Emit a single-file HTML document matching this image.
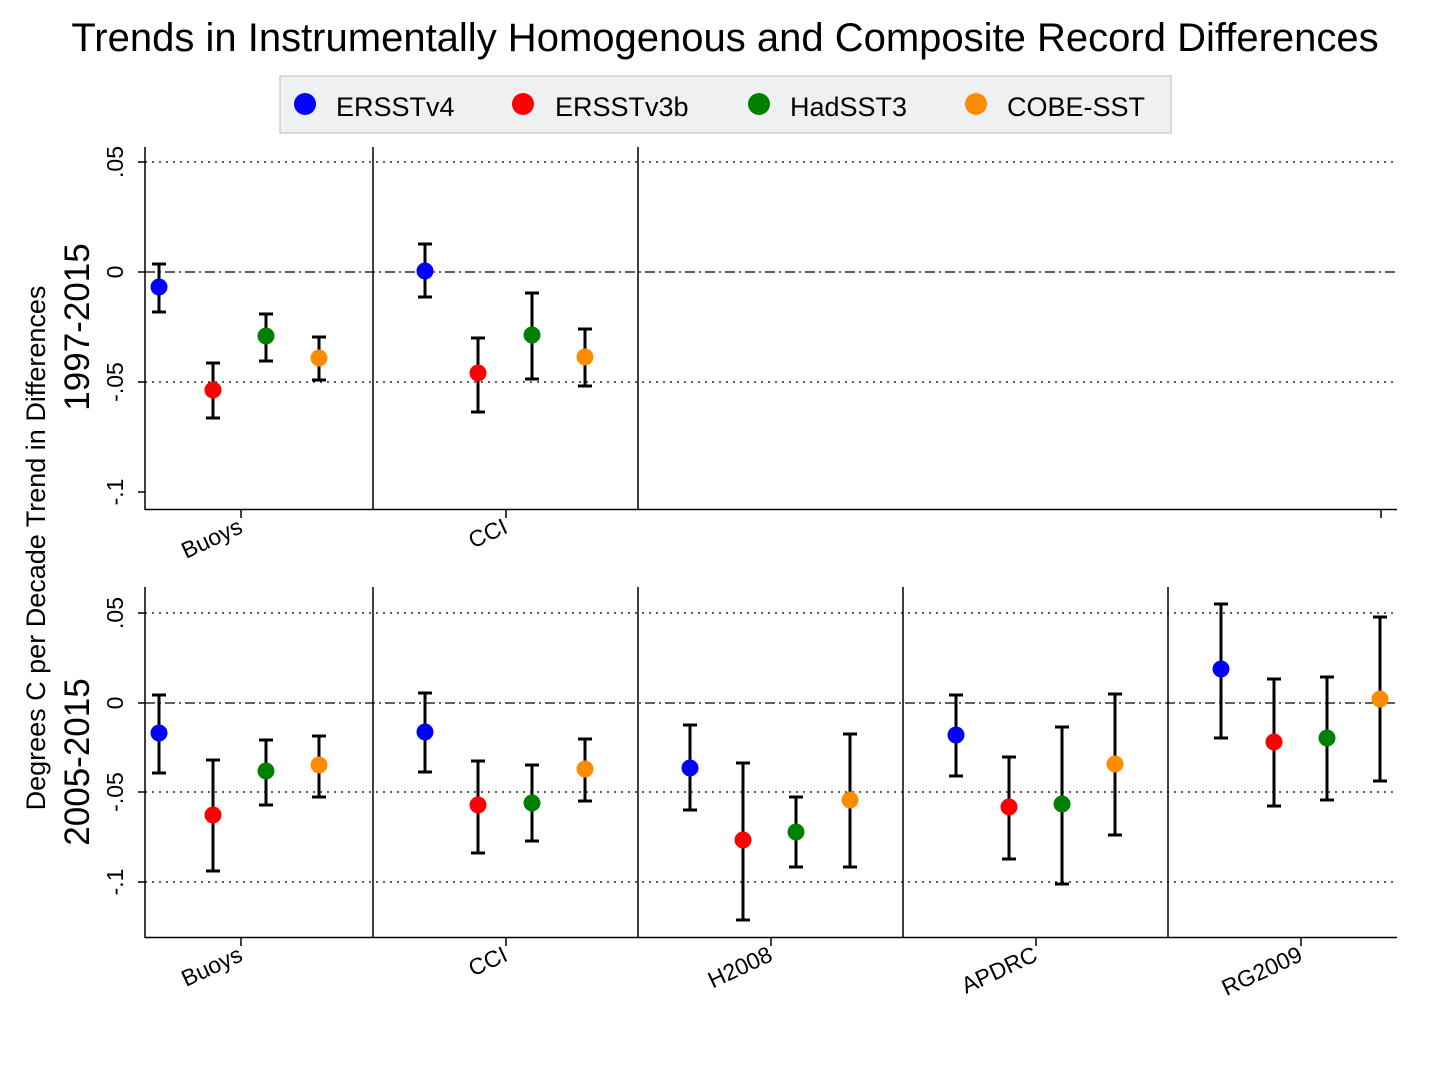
<!DOCTYPE html>
<html><head><meta charset="utf-8"><style>html,body{margin:0;padding:0;background:#fff}</style></head><body>
<svg width="1447" height="1077" xmlns="http://www.w3.org/2000/svg" font-family="Liberation Sans, sans-serif">
<text x="725" y="51" font-size="40" text-anchor="middle">Trends in Instrumentally Homogenous and Composite Record Differences</text>
<rect x="280" y="76" width="891" height="57" fill="#eef0f1" stroke="#c8d0d6" stroke-width="1.5"/>
<g font-size="27">
<circle cx="305" cy="104" r="11" fill="#0000ff"/><text x="336" y="116">ERSSTv4</text>
<circle cx="523" cy="104" r="11" fill="#ff0000"/><text x="555" y="116">ERSSTv3b</text>
<circle cx="759" cy="104" r="11" fill="#008000"/><text x="790" y="116">HadSST3</text>
<circle cx="976" cy="104" r="11" fill="#ff8c00"/><text x="1007" y="116">COBE-SST</text>
</g>
<text transform="translate(45,548) rotate(-90)" font-size="27" text-anchor="middle">Degrees C per Decade Trend in Differences</text>
<text transform="translate(89,327) rotate(-90)" font-size="35" text-anchor="middle">1997-2015</text>
<text transform="translate(89,762) rotate(-90)" font-size="35" text-anchor="middle">2005-2015</text>
<g stroke="#000" stroke-width="1.5" fill="none">
<line x1="145" y1="147" x2="145" y2="510"/><line x1="145" y1="509.5" x2="1397" y2="509.5"/>
<line x1="373" y1="147" x2="373" y2="510"/><line x1="638" y1="147" x2="638" y2="510"/>
<line x1="138" y1="162" x2="145" y2="162"/><line x1="138" y1="272" x2="145" y2="272"/><line x1="138" y1="382" x2="145" y2="382"/><line x1="138" y1="492" x2="145" y2="492"/>
<line x1="241" y1="510" x2="241" y2="518"/><line x1="506" y1="510" x2="506" y2="518"/><line x1="1381" y1="510" x2="1381" y2="518"/>
<line x1="145" y1="587" x2="145" y2="938"/><line x1="145" y1="937.5" x2="1397" y2="937.5"/>
<line x1="373" y1="587" x2="373" y2="938"/><line x1="638" y1="587" x2="638" y2="938"/><line x1="903" y1="587" x2="903" y2="938"/><line x1="1168" y1="587" x2="1168" y2="938"/>
<line x1="138" y1="613" x2="145" y2="613"/><line x1="138" y1="703" x2="145" y2="703"/><line x1="138" y1="792" x2="145" y2="792"/><line x1="138" y1="882" x2="145" y2="882"/>
<line x1="241" y1="938" x2="241" y2="946"/><line x1="506" y1="938" x2="506" y2="946"/><line x1="771" y1="938" x2="771" y2="946"/><line x1="1036" y1="938" x2="1036" y2="946"/><line x1="1301" y1="938" x2="1301" y2="946"/>
</g>
<g stroke="#000" stroke-width="1.2" stroke-dasharray="2,5">
<line x1="145" y1="162" x2="1397" y2="162"/><line x1="145" y1="382" x2="1397" y2="382"/>
<line x1="145" y1="613" x2="1397" y2="613"/><line x1="145" y1="792" x2="1397" y2="792"/><line x1="145" y1="882" x2="1397" y2="882"/>
</g>
<g stroke="#000" stroke-width="1.3" stroke-dasharray="10,4,2,4">
<line x1="145" y1="272" x2="1397" y2="272"/><line x1="145" y1="703" x2="1397" y2="703"/>
</g>
<g font-size="23" text-anchor="middle">
<text transform="translate(123,162) rotate(-90)">.05</text><text transform="translate(123,272) rotate(-90)">0</text>
<text transform="translate(123,382) rotate(-90)">-.05</text><text transform="translate(123,492) rotate(-90)">-.1</text>
<text transform="translate(123,613) rotate(-90)">.05</text><text transform="translate(123,703) rotate(-90)">0</text>
<text transform="translate(123,792) rotate(-90)">-.05</text><text transform="translate(123,882) rotate(-90)">-.1</text>
</g>
<g font-size="23" text-anchor="end">
<text transform="translate(244,532) rotate(-25)">Buoys</text><text transform="translate(509,532) rotate(-25)">CCI</text>
<text transform="translate(244,960) rotate(-25)">Buoys</text><text transform="translate(509,960) rotate(-25)">CCI</text>
<text transform="translate(774,960) rotate(-25)">H2008</text><text transform="translate(1039,960) rotate(-25)">APDRC</text>
<text transform="translate(1304,960) rotate(-25)">RG2009</text>
</g>
<g stroke="#000" stroke-width="3">
<path d="M159 264V312M152 264H166M152 312H166 M213 363V418M206 363H220M206 418H220 M266 314V361M259 314H273M259 361H273 M319 337V380M312 337H326M312 380H326
M425 244V297M418 244H432M418 297H432 M478 338V412M471 338H485M471 412H485 M532 293V379M525 293H539M525 379H539 M585 329V386M578 329H592M578 386H592
M159 695V773M152 695H166M152 773H166 M213 760V871M206 760H220M206 871H220 M266 740V805M259 740H273M259 805H273 M319 736V797M312 736H326M312 797H326
M425 693V772M418 693H432M418 772H432 M478 761V853M471 761H485M471 853H485 M532 765V841M525 765H539M525 841H539 M585 739V801M578 739H592M578 801H592
M690 725V810M683 725H697M683 810H697 M743 763V920M736 763H750M736 920H750 M796 797V867M789 797H803M789 867H803 M850 734V867M843 734H857M843 867H857
M956 695V776M949 695H963M949 776H963 M1009 757V859M1002 757H1016M1002 859H1016 M1062 727V884M1055 727H1069M1055 884H1069 M1115 694V835M1108 694H1122M1108 835H1122
M1221 604V738M1214 604H1228M1214 738H1228 M1274 679V806M1267 679H1281M1267 806H1281 M1327 677V800M1320 677H1334M1320 800H1334 M1380 617V781M1373 617H1387M1373 781H1387" fill="none"/>
</g>
<g>
<circle cx="159" cy="287" r="8.5" fill="#0000ff"/><circle cx="213" cy="390" r="8.5" fill="#ff0000"/><circle cx="266" cy="336" r="8.5" fill="#008000"/><circle cx="319" cy="358" r="8.5" fill="#ff8c00"/>
<circle cx="425" cy="271" r="8.5" fill="#0000ff"/><circle cx="478" cy="373" r="8.5" fill="#ff0000"/><circle cx="532" cy="335" r="8.5" fill="#008000"/><circle cx="585" cy="357" r="8.5" fill="#ff8c00"/>
<circle cx="159" cy="733" r="8.5" fill="#0000ff"/><circle cx="213" cy="815" r="8.5" fill="#ff0000"/><circle cx="266" cy="771" r="8.5" fill="#008000"/><circle cx="319" cy="765" r="8.5" fill="#ff8c00"/>
<circle cx="425" cy="732" r="8.5" fill="#0000ff"/><circle cx="478" cy="805" r="8.5" fill="#ff0000"/><circle cx="532" cy="803" r="8.5" fill="#008000"/><circle cx="585" cy="769" r="8.5" fill="#ff8c00"/>
<circle cx="690" cy="768" r="8.5" fill="#0000ff"/><circle cx="743" cy="840" r="8.5" fill="#ff0000"/><circle cx="796" cy="832" r="8.5" fill="#008000"/><circle cx="850" cy="800" r="8.5" fill="#ff8c00"/>
<circle cx="956" cy="735" r="8.5" fill="#0000ff"/><circle cx="1009" cy="807" r="8.5" fill="#ff0000"/><circle cx="1062" cy="804" r="8.5" fill="#008000"/><circle cx="1115" cy="764" r="8.5" fill="#ff8c00"/>
<circle cx="1221" cy="669" r="8.5" fill="#0000ff"/><circle cx="1274" cy="742" r="8.5" fill="#ff0000"/><circle cx="1327" cy="738" r="8.5" fill="#008000"/><circle cx="1380" cy="699" r="8.5" fill="#ff8c00"/>
</g>
</svg>
</body></html>
